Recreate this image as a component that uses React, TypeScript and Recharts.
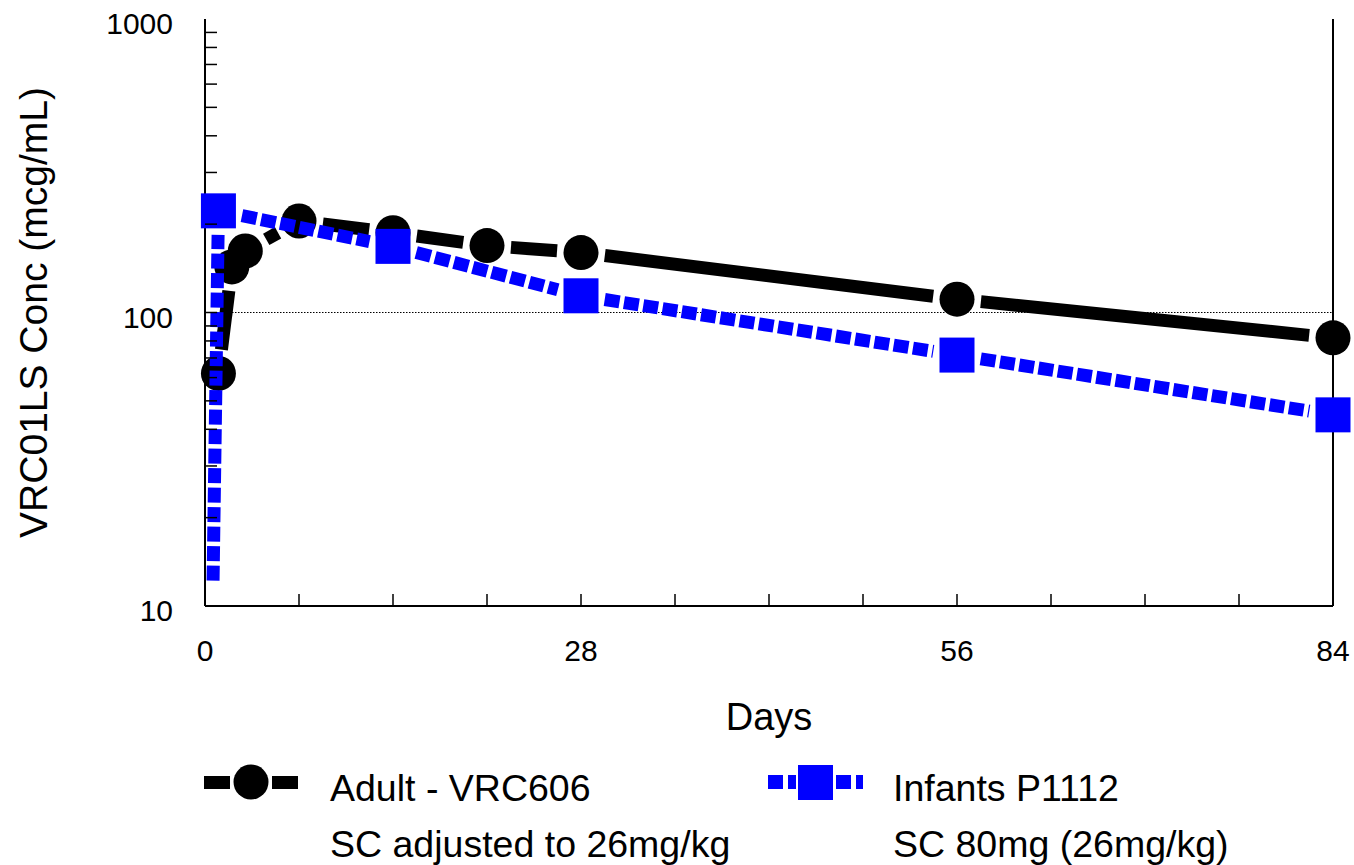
import React from 'react'
import { LineChart, Line, XAxis, YAxis, ReferenceLine } from 'recharts'

const FONT = '"Liberation Sans", Arial, Helvetica, sans-serif'
const BLUE = '#0000ff'

// Adult - VRC606, SC adjusted to 26mg/kg
const adultDays = [1, 2, 3, 7, 14, 21, 28, 56, 84]
const adultConc = [62, 143, 162, 205, 187, 169, 160, 111, 82]

// Infants P1112, SC 80mg (26mg/kg)
// first point is where the line enters the plot from below, it has no symbol
const infantDays = [0.6, 1, 14, 28, 56, 84]
const infantConc = [12.2, 222, 168, 114, 71.6, 44.8]
const infantSymbol = [false, true, true, true, true, true]

const xTicks = [0, 7, 14, 21, 28, 35, 42, 49, 56, 63, 70, 77, 84]
const xLabels = [0, 28, 56, 84]
const yTicks = [10, 20, 30, 40, 50, 60, 70, 80, 90, 100, 200, 300, 400, 500, 600, 700, 800, 900, 1000]
const yLabels = [10, 100, 1000]

const adultData = adultDays.map((day, i) => ({ day, conc: adultConc[i], symbol: true }))
const infantData = infantDays.map((day, i) => ({ day, conc: infantConc[i], symbol: infantSymbol[i] }))

// lines stop short of their own symbols, like the original plot
const GAP = 24

function segment(a: any, b: any, cutA: boolean, cutB: boolean) {
  const dx = b.x - a.x
  const dy = b.y - a.y
  const len = Math.hypot(dx, dy)
  const s = cutA ? GAP : 0
  const e = cutB ? GAP : 0
  if (len <= s + e) return null
  const ux = dx / len
  const uy = dy / len
  return { x1: a.x + ux * s, y1: a.y + uy * s, x2: b.x - ux * e, y2: b.y - uy * e }
}

function makeDot(kind: 'circle' | 'square') {
  return (props: any) => {
    const { cx, cy, index, points, payload } = props
    const next = points && points[index + 1]
    const seg = next ? segment({ x: cx, y: cy }, next, payload.symbol, next.payload.symbol) : null
    return (
      <g key={`dot-${kind}-${index}`}>
        {seg && (
          <line
            {...seg}
            stroke={kind === 'circle' ? '#000' : BLUE}
            strokeWidth={13}
            strokeDasharray={kind === 'circle' ? undefined : '15 4.5'}
          />
        )}
        {payload.symbol &&
          (kind === 'circle' ? (
            <circle cx={cx} cy={cy} r={17.5} fill="#000" />
          ) : (
            <rect x={cx - 17.5} y={cy - 17.5} width={35} height={35} fill={BLUE} />
          ))}
      </g>
    )
  }
}

const XTick = (props: any) => {
  const { x, y, payload } = props
  const v = payload.value
  return (
    <g>
      {v > 0 && v < 84 && <line x1={x} y1={y} x2={x} y2={y - 12} stroke="#000" strokeWidth={1.5} />}
      {xLabels.includes(v) && (
        <text x={x} y={y + 55} textAnchor="middle" fontSize={30} fontFamily={FONT} fill="#000">
          {v}
        </text>
      )}
    </g>
  )
}

const YTick = (props: any) => {
  const { x, y, payload } = props
  const v = payload.value
  return (
    <g>
      {v > 10 && v < 1000 && <line x1={x} y1={y} x2={x + 12} y2={y} stroke="#000" strokeWidth={1.5} />}
      {yLabels.includes(v) && (
        <text x={x - 32} y={y + 15} textAnchor="end" fontSize={30} fontFamily={FONT} fill="#000">
          {v}
        </text>
      )}
    </g>
  )
}

function LegendOverlay() {
  const text = { fontSize: 37.5, fontFamily: FONT, fill: '#000' }
  return (
    <svg width={1354} height={865} style={{ position: 'absolute', left: 0, top: 0, pointerEvents: 'none' }}>
      <rect x={204} y={776} width={26} height={13} fill="#000" />
      <circle cx={251} cy={782} r={17.5} fill="#000" />
      <rect x={272} y={776} width={26} height={13} fill="#000" />
      <text x={330} y={801} {...text}>Adult - VRC606</text>
      <text x={330} y={857} {...text}>SC adjusted to 26mg/kg</text>

      <rect x={768} y={775} width={15} height={14} fill={BLUE} />
      <rect x={788} y={775} width={8} height={14} fill={BLUE} />
      <rect x={798} y={765} width={35} height={35} fill={BLUE} />
      <rect x={836} y={775} width={15} height={14} fill={BLUE} />
      <rect x={856} y={775} width={7} height={14} fill={BLUE} />
      <text x={893} y={801} {...text}>Infants P1112</text>
      <text x={893} y={857} {...text}>SC 80mg (26mg/kg)</text>
    </svg>
  )
}

export default function App() {
  return (
    <div style={{ position: 'absolute', left: 0, top: 0, width: 1354, height: 865, background: '#fff' }}>
      <LineChart
        width={1354}
        height={865}
        margin={{ top: 19, right: 21, bottom: 199, left: 0 }}
        style={{ fontFamily: FONT }}
      >
        <ReferenceLine y={100} stroke="#000" strokeWidth={1} strokeDasharray="1.5 1.5" />
        <XAxis
          dataKey="day"
          type="number"
          domain={[0, 84]}
          ticks={xTicks}
          interval={0}
          height={60}
          tickSize={0}
          tickMargin={0}
          tickLine={false}
          tick={<XTick />}
          axisLine={{ stroke: '#000', strokeWidth: 2 }}
          label={{ value: 'Days', position: 'bottom', offset: 37, style: { fontSize: 38, fill: '#000', fontFamily: FONT } }}
        />
        <XAxis
          xAxisId="top"
          orientation="top"
          type="number"
          domain={[0, 84]}
          height={0}
          tick={false}
          tickLine={false}
          axisLine={{ stroke: '#000', strokeWidth: 2 }}
        />
        <YAxis
          type="number"
          scale="log"
          domain={[10, 1000]}
          ticks={yTicks}
          interval={0}
          width={205}
          tickSize={0}
          tickMargin={0}
          tickLine={false}
          tick={<YTick />}
          axisLine={{ stroke: '#000', strokeWidth: 2 }}
          label={{
            value: 'VRC01LS Conc (mcg/mL)',
            angle: -90,
            position: 'insideLeft',
            offset: 33,
            style: { textAnchor: 'middle', fontSize: 39, fill: '#000', fontFamily: FONT },
          }}
        />
        <YAxis
          yAxisId="right"
          orientation="right"
          type="number"
          domain={[10, 1000]}
          width={0}
          tick={false}
          tickLine={false}
          axisLine={{ stroke: '#000', strokeWidth: 2 }}
        />
        <Line
          data={adultData}
          dataKey="conc"
          stroke="none"
          dot={makeDot('circle')}
          activeDot={false}
          isAnimationActive={false}
        />
        <Line
          data={infantData}
          dataKey="conc"
          stroke="none"
          dot={makeDot('square')}
          activeDot={false}
          isAnimationActive={false}
        />
        {/* right frame edge sits over the day-84 symbols */}
        <ReferenceLine x={84} stroke="#000" strokeWidth={2} />
      </LineChart>
      <LegendOverlay />
    </div>
  )
}
